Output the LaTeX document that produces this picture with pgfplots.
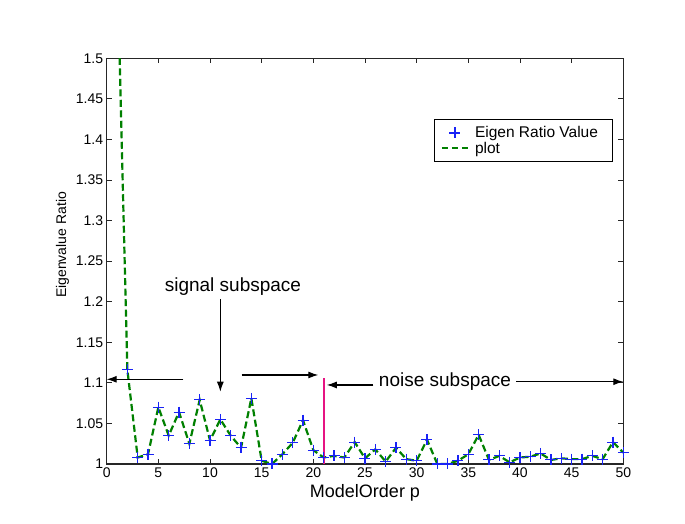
\documentclass[border=0pt]{standalone}
\usepackage{pgfplots}
\usepackage{pgfplotstable}
\pgfplotsset{compat=1.18}
\usepackage{fontspec}
\setmainfont{Liberation Sans}
\usetikzlibrary{arrows.meta}

\definecolor{mkblue}{RGB}{25,35,245}
\definecolor{lngreen}{RGB}{0,128,0}
\definecolor{vmag}{RGB}{230,20,130}

\pgfplotsset{
  markleg/.style={legend image code/.code={\draw[##1] plot coordinates {(17pt,0pt)}; \path (0pt,0pt) (34pt,0pt);}},
  lineleg/.style={legend image code/.code={\draw[##1, dash pattern=on 6pt off 4pt] (4pt,0pt) -- (30pt,0pt); \path (0pt,0pt) (34pt,0pt);}},
}

\pgfplotstableread{
x y
1 1.63
2 1.116
3 1.008
4 1.012
5 1.070
6 1.035
7 1.064
8 1.025
9 1.079
10 1.029
11 1.055
12 1.035
13 1.020
14 1.081
15 1.004
16 1.000
17 1.012
18 1.026
19 1.054
20 1.017
21 1.008
22 1.010
23 1.008
24 1.027
25 1.007
26 1.018
27 1.003
28 1.020
29 1.006
30 1.004
31 1.030
32 1.000
33 1.000
34 1.004
35 1.012
36 1.036
37 1.005
38 1.010
39 1.002
40 1.008
41 1.009
42 1.013
43 1.005
44 1.007
45 1.006
46 1.006
47 1.010
48 1.006
49 1.027
50 1.014
}\eigtable

\begin{document}
\begin{tikzpicture}
\path[use as bounding box] (-106.7pt,-60pt) rectangle (578.3pt,464pt);
\begin{axis}[
  at={(0,0)}, anchor=south west,
  scale only axis, width=516.6pt, height=405.7pt,
  xmin=0, xmax=50, ymin=1, ymax=1.5,
  xtick={0,5,10,15,20,25,30,35,40,45,50},
  ytick={1,1.05,1.1,1.15,1.2,1.25,1.3,1.35,1.4,1.45,1.5},
  yticklabels={1,1.05,1.1,1.15,1.2,1.25,1.3,1.35,1.4,1.45,1.5},
  /pgf/number format/assume math mode=true,
  tick label style={font=\fontsize{14}{16}\selectfont},
  xlabel={ModelOrder p},
  ylabel={Eigenvalue Ratio},
  xlabel style={font=\fontsize{18}{20}\selectfont},
  ylabel style={font=\fontsize{14}{16}\selectfont, at={(ticklabel cs:0.54)}},
  axis line style={black!85, line width=1.1pt},
  tick style={black!85, line width=0.9pt},
  major tick length=5pt,
  legend style={at={(0.979,0.85)}, anchor=north east, draw=black, line width=0.9pt,
    font=\fontsize{15.5}{17}\selectfont, inner xsep=2pt, inner ysep=5pt,
    row sep=-1.5pt},
  legend cell align=left,
  reverse legend,
  clip=true,
]
\addplot[no marks, lngreen, line width=2.2pt, dash pattern=on 7pt off 3.5pt, lineleg]
  table[x=x,y=y] {\eigtable};
\addlegendentry{plot}
\addplot[only marks, mark=+, mark size=5.5pt, color=mkblue, mark options={draw=mkblue, line width=1.1pt}, markleg]
  table[x=x,y=y] {\eigtable};
\addlegendentry{Eigen Ratio Value\kern10pt}
\addplot[no marks, vmag, line width=2.2pt, forget plot] coordinates {(21,1) (21,1.106)};

\node[font=\fontsize{19}{21}\selectfont, anchor=base] at (axis cs:12.22,1.2124) {signal subspace};
\node[font=\fontsize{19}{21}\selectfont, anchor=base] at (axis cs:32.74,1.0961) {noise subspace};
\draw[black, line width=1.1pt, -{Latex[length=10pt,width=7pt]}] (axis cs:11,1.2034) -- (axis cs:11,1.0891);
\draw[black, line width=1.1pt, -{Latex[length=10pt,width=7pt]}] (axis cs:7.42,1.1044) -- (axis cs:0,1.1044);
\draw[black, line width=1.1pt, -{Latex[length=10pt,width=7pt]}] (axis cs:13.07,1.1097) -- (axis cs:20.48,1.1097);
\draw[black, line width=1.1pt, -{Latex[length=10pt,width=7pt]}] (axis cs:25.81,1.0974) -- (axis cs:21.3,1.0974);
\draw[black, line width=1.1pt, -{Latex[length=10pt,width=7pt]}] (axis cs:39.62,1.1014) -- (axis cs:50,1.1014);
\end{axis}
\end{tikzpicture}
\end{document}
